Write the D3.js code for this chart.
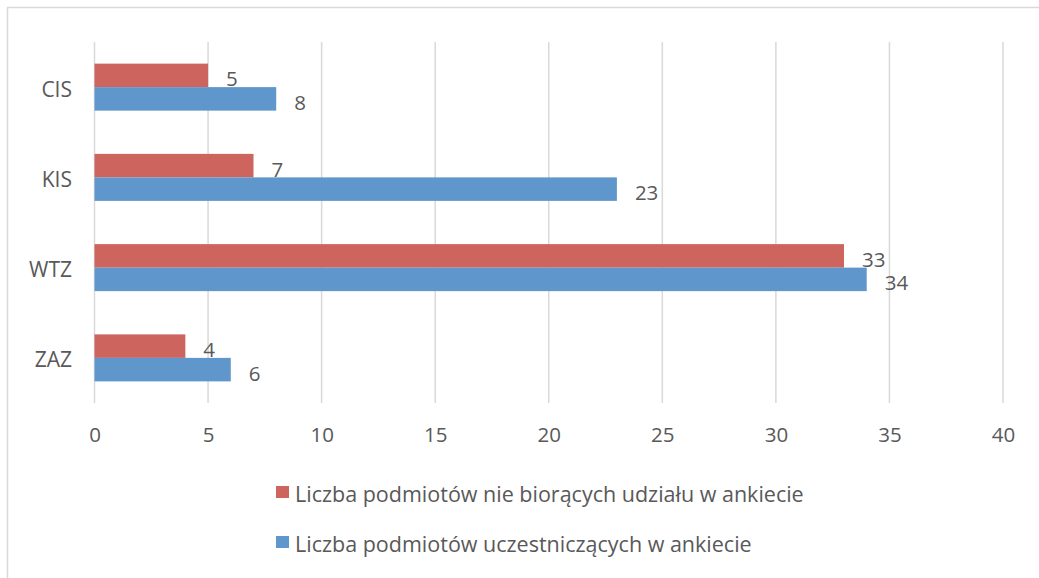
<!DOCTYPE html>
<html><head><meta charset="utf-8">
<script src="https://cdn.jsdelivr.net/npm/d3@7"></script>
<style>body{margin:0;background:#fff}svg{display:block}text{font-family:"Open Sans",sans-serif;fill:#595959}</style>
</head><body><svg id="c" width="1039" height="578"></svg>
<script>
const categories = ["CIS","KIS","WTZ","ZAZ"];
const seriesNames = ["Liczba podmiotów nie biorących udziału w ankiecie","Liczba podmiotów uczestniczących w ankiecie"];
const notTaking = [5,7,33,4];
const taking = [8,23,34,6];
const colors = ["#CD645E","#5F96CB"];
const xTicks = [0,5,10,15,20,25,30,35,40];

const svg = d3.select("#c");
svg.append("rect").attr("x",7.5).attr("y",7.5).attr("width",1100).attr("height",700)
  .attr("fill","none").attr("stroke","#D9D9D9").attr("stroke-width",1.5);

const x = d3.scaleLinear().domain([0,40]).range([94.5,1003]);
const y = d3.scaleBand().domain(categories).range([42,403]).paddingInner(0).paddingOuter(0);
const sub = d3.scaleBand().domain([0,1]).range([y.bandwidth()/2-23.5,y.bandwidth()/2+23.5]);

// gridlines
svg.append("g").selectAll("line").data(xTicks).join("line")
  .attr("x1",d=>x(d)).attr("x2",d=>x(d)).attr("y1",42).attr("y2",403)
  .attr("stroke","#D9D9D9").attr("stroke-width",1.5);

// x axis labels
const ax = svg.append("g").attr("transform","translate(0,403)")
  .call(d3.axisBottom(x).tickValues(xTicks).tickSize(0).tickPadding(24));
ax.select(".domain").remove();
ax.selectAll("text").style("font-size","20.5px").attr("fill","#595959").attr("font-family","'Open Sans',sans-serif");

// y axis labels
const ay = svg.append("g").attr("transform","translate(72,0)")
  .call(d3.axisLeft(y).tickSize(0).tickPadding(0));
ay.select(".domain").remove();
ay.selectAll("text").style("font-size","21px").attr("fill","#595959").attr("font-family","'Open Sans',sans-serif").attr("dy","0.45em");

const data = [notTaking, taking];
data.forEach((vals,si)=>{
  const g = svg.append("g");
  g.selectAll("rect").data(vals).join("rect")
    .attr("x",x(0)).attr("y",(d,i)=>y(categories[i])+sub(si))
    .attr("width",d=>x(d)-x(0)).attr("height",sub.bandwidth())
    .attr("fill",colors[si]);
  g.selectAll("text").data(vals).join("text")
    .attr("x",d=>x(d)+18).attr("y",(d,i)=>y(categories[i])+sub(si)+sub.bandwidth()/2+3)
    .attr("dominant-baseline","central")
    .style("font-size","20.5px").text(d=>d);
});

// legend
const lg = svg.append("g");
seriesNames.forEach((n,i)=>{
  const yy = 486 + i*50;
  lg.append("rect").attr("x",276).attr("y",yy).attr("width",13).attr("height",12).attr("fill",colors[i]);
  lg.append("text").attr("x",295).attr("y",yy+16).style("font-size","21.5px").text(n);
});
</script></body></html>
